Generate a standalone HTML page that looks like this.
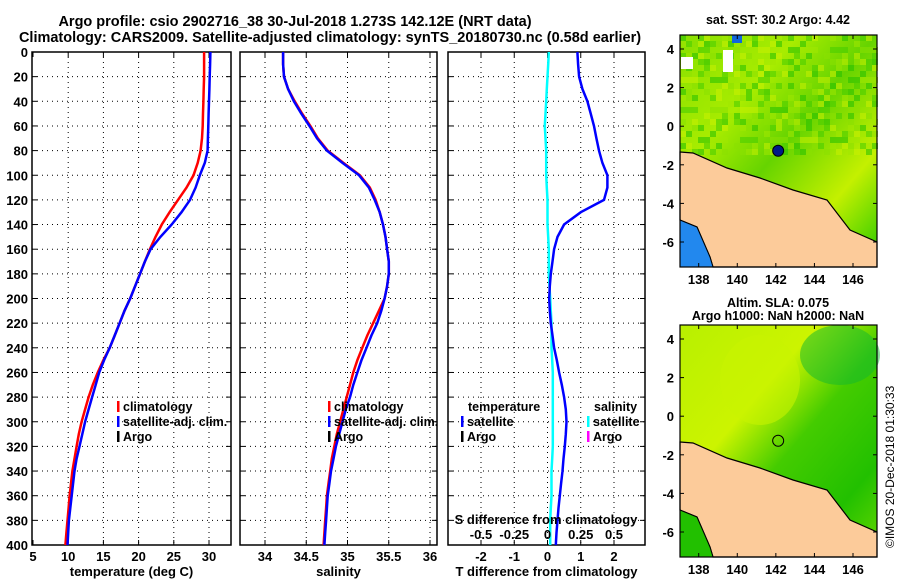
<!DOCTYPE html>
<html><head><meta charset="utf-8">
<style>
body{margin:0;background:#fff;}
svg{display:block;font-family:"Liberation Sans",Arial,sans-serif;font-weight:bold;}
</style></head>
<body>
<svg id="chart" width="900" height="580" viewBox="0 0 900 580" xmlns="http://www.w3.org/2000/svg">
<text x="295" y="26" font-size="14.5" text-anchor="middle">Argo profile: csio 2902716_38 30-Jul-2018 1.273S 142.12E (NRT data)</text>
<text x="330" y="42" font-size="14.5" text-anchor="middle">Climatology: CARS2009. Satellite-adjusted climatology: synTS_20180730.nc (0.58d earlier)</text>
<g id="g"></g>
<text x="0" y="0" font-size="12" font-weight="normal" transform="translate(894,548) rotate(-90)">©IMOS 20-Dec-2018 01:30:33</text>
</svg>
<script>
// ---- data ----
const depths = [0,10,20,30,40,50,60,70,80,90,100,110,120,130,140,150,160,170,180,190,200,210,220,230,240,250,260,270,280,290,300,310,320,330,340,350,360,370,380,390,400];
const tempClim = [29.3,29.3,29.3,29.25,29.2,29.15,29.1,29.0,28.8,28.4,27.8,26.8,25.6,24.4,23.3,22.4,21.6,20.9,20.2,19.5,18.8,18.0,17.3,16.6,15.9,15.0,14.2,13.5,12.9,12.4,11.9,11.5,11.2,10.9,10.6,10.4,10.2,10.05,9.9,9.75,9.6];
const tempSat  = [30.2,30.15,30.1,30.05,30.0,29.95,29.9,29.85,29.8,29.4,28.7,28.1,27.3,26.1,24.7,23.1,21.7,20.9,20.2,19.5,18.8,18.0,17.3,16.6,15.9,15.1,14.4,13.9,13.4,12.9,12.4,12.0,11.6,11.2,10.9,10.7,10.5,10.3,10.1,10.0,9.9];
const salClim  = [34.22,34.22,34.23,34.28,34.36,34.45,34.55,34.64,34.76,34.95,35.15,35.27,35.34,35.39,35.43,35.46,35.48,35.5,35.5,35.48,35.45,35.38,35.31,35.24,35.18,35.12,35.07,35.03,34.99,34.95,34.91,34.87,34.84,34.81,34.79,34.77,34.75,34.74,34.73,34.72,34.71];
const salSat   = [34.22,34.22,34.23,34.28,34.35,34.44,34.54,34.63,34.75,34.94,35.14,35.26,35.33,35.39,35.43,35.46,35.48,35.5,35.5,35.48,35.45,35.41,35.36,35.29,35.23,35.17,35.12,35.07,35.03,34.98,34.94,34.9,34.86,34.83,34.8,34.78,34.76,34.75,34.74,34.73,34.72];
const tDiff    = [0.9,0.92,0.95,1.05,1.2,1.3,1.4,1.47,1.55,1.65,1.8,1.8,1.7,1.0,0.5,0.3,0.2,0.15,0.1,0.07,0.05,0.07,0.1,0.15,0.2,0.28,0.35,0.43,0.5,0.55,0.57,0.55,0.52,0.48,0.45,0.41,0.37,0.33,0.3,0.27,0.25];
const sDiff    = [0.01,0.005,0,-0.005,-0.01,-0.015,-0.02,-0.015,-0.01,-0.01,-0.01,-0.005,0,0,0,0.005,0.01,0.01,0.01,0.015,0.02,0.025,0.03,0.03,0.03,0.035,0.04,0.04,0.04,0.04,0.04,0.04,0.04,0.035,0.03,0.03,0.03,0.025,0.02,0.02,0.02];
const tTicks = [5,10,15,20,25,30];
const sTicks = [34,34.5,35,35.5,36];
const tdTicks = [-2,-1,0,1,2];
const sdTicks = [-0.5,-0.25,0,0.25,0.5];
const depthTicks = [0,20,40,60,80,100,120,140,160,180,200,220,240,260,280,300,320,340,360,380,400];
const lonTicks = [138,140,142,144,146];
const latTicks = [4,2,0,-2,-4,-6];

const NS="http://www.w3.org/2000/svg";
const G=document.getElementById('g');
function el(tag,attrs,parent){const e=document.createElementNS(NS,tag);for(const k in attrs)e.setAttribute(k,attrs[k]);(parent||G).appendChild(e);return e;}
function txt(x,y,s,size,anchor,parent){const t=el('text',{x:x,y:y,'font-size':size,'text-anchor':anchor||'start'},parent);t.textContent=s;return t;}

const top0=52,bot0=545;
const yD=d=>top0+(d/400)*(bot0-top0);
function lin(d0,d1,r0,r1){return v=>r0+(v-d0)/(d1-d0)*(r1-r0);}

const panels=[
 {name:'temperature-panel',x0:32,x1:231,x:lin(5,30,33,209),ticks:tTicks,label:'temperature (deg C)'},
 {name:'salinity-panel',x0:240,x1:437,x:lin(34,36,265,430),ticks:sTicks,label:'salinity'},
 {name:'difference-panel',x0:448,x1:645,x:lin(-2,2,481,614),ticks:tdTicks,label:'T difference from climatology'}
];
panels.forEach((p,i)=>{
 const g=el('g',{});
 
 
 depthTicks.forEach(d=>{const y=yD(d);if(d>0&&d<400){el('line',{x1:p.x0,x2:p.x1,y1:y,y2:y,stroke:'#000','stroke-dasharray':'1,4'},g);}
   el('line',{x1:p.x0,x2:p.x0+5,y1:y,y2:y,stroke:'#000'},g);el('line',{x1:p.x1-5,x2:p.x1,y1:y,y2:y,stroke:'#000'},g);
   if(i==0){const t=txt(p.x0-4,y+5,String(d),13,'end',g);}
 });
 p.ticks.forEach(v=>{const x=p.x(v);if(x>p.x0+1&&x<p.x1-1)el('line',{x1:x,x2:x,y1:top0,y2:bot0,stroke:'#000','stroke-dasharray':'1,4'},g);
   el('line',{x1:x,x2:x,y1:bot0-5,y2:bot0,stroke:'#000'},g);el('line',{x1:x,x2:x,y1:top0,y2:top0+5,stroke:'#000'},g);
   const t=txt(x,561,String(v),13,'middle',g);});
 el('rect',{x:p.x0,y:top0,width:p.x1-p.x0,height:bot0-top0,fill:'none',stroke:'#000','stroke-width':1.5},g);
 const xl=txt((p.x0+p.x1)/2,576,p.label,13,'middle',g);
 
 
});
function line(vals,xf,color,name,w){
 const pts=vals.map((v,i)=>xf(v).toFixed(1)+','+yD(depths[i]).toFixed(1)).join(' ');
 const l=el('polyline',{points:pts,fill:'none',stroke:color,'stroke-width':w||2.5});
 
 
}
line(tempClim,panels[0].x,'#ff0000','temp-climatology-line');
line(tempSat,panels[0].x,'#0000ff','temp-satellite-line');
line(salClim,panels[1].x,'#ff0000','sal-climatology-line');
line(salSat,panels[1].x,'#0000ff','sal-satellite-line');
line(sDiff,v=>panels[2].x(v*4),'#00ffff','s-diff-satellite-line');
line(tDiff,panels[2].x,'#0000ff','t-diff-satellite-line');
txt(546,524,'S difference from climatology',13,'middle');
sdTicks.forEach(v=>{const t=txt(panels[2].x(v*4),539,String(v),13,'middle');});
function leg(x,y,color,label){const g=el('g',{});
 el('rect',{x:x,y:y-10,width:2.5,height:11,fill:color},g);txt(x+6,y,label,12.5,'start',g);}
[117,328].forEach(x=>{leg(x,411,'#ff0000','climatology');leg(x,426,'#0000ff','satellite-adj. clim.');leg(x,441,'#000','Argo');});
txt(468,411,'temperature',12.5);leg(461,426,'#0000ff','satellite');leg(461,441,'#000','Argo');
txt(594,411,'salinity',12.5);leg(587,426,'#00ffff','satellite');leg(587,441,'#ff00ff','Argo');

// maps
function map(y0,y1,latY4,sst,name,title1,title2){
 const g=el('g',{});
 const X=lin(138,146,698.7,853),Y=lin(4,-6,latY4,latY4+193);
 const dy=latY4-49;
 const defs=el('defs',{},g);
 const grad=el('linearGradient',{id:'gr'+name,x1:0,y1:0,x2:1,y2:1},defs);
 if(sst){[[0,'#88e000'],[0.3,'#a8ec00'],[0.5,'#66d400'],[0.75,'#c4f000'],[1,'#22c800']].forEach(s=>el('stop',{offset:s[0],'stop-color':s[1]},grad));}
 else{[[0,'#b8f000'],[0.35,'#ccf400'],[0.55,'#44cc00'],[0.8,'#22c000'],[1,'#66d800']].forEach(s=>el('stop',{offset:s[0],'stop-color':s[1]},grad));}
 el('rect',{x:680,y:y0,width:197,height:y1-y0,fill:'url(#gr'+name+')'},g);
 if(sst){
  const c=['#22c000','#c8f000','#8ae000','#44cc00','#a0e800'];
  for(let i=0;i<33;i++)for(let j=0;j<20;j++){const k=(i*7+j*13+(i*j)%5)%9;if(k<5)el('rect',{x:680+i*6,y:y0+j*6,width:6,height:6,fill:c[k],opacity:0.55},g);}
  el('rect',{x:723,y:50,width:10,height:22,fill:'#fff'},g);el('rect',{x:681,y:57,width:12,height:12,fill:'#fff'},g);el('rect',{x:732,y:35,width:10,height:8,fill:'#1166dd'},g);}
 else{el('ellipse',{cx:760,cy:y0+55,rx:40,ry:45,fill:'#c8f400',opacity:0.6},g);el('ellipse',{cx:840,cy:y0+30,rx:40,ry:30,fill:'#10b830',opacity:0.5},g);}
 const coast=[[680,152],[693,153],[727,168],[760,178],[793,190],[827,200],[850,230],[877,242],[877,y1-dy],[713,y1-dy],[710,257],[697,227],[680,220]];
 el('polygon',{points:coast.map(p=>p[0]+','+(Math.min(p[1]+dy,y1))).join(' '),fill:'#fccb9a',stroke:'#000','stroke-width':1.2},g);
 el('polygon',{points:[[680,220],[697,227],[710,257],[713,267],[680,267]].map(p=>p[0]+','+Math.min(p[1]+dy,y1)).join(' '),fill:sst?'#2288ee':'#22c000',stroke:'#000','stroke-width':1},g);
 if(sst){const c=el('circle',{cx:X(142.12),cy:Y(-1.273),r:5.5,fill:'#001a88',stroke:'#000'},g);}
 else{const c=el('circle',{cx:X(142.12),cy:Y(-1.273),r:5.5,fill:'none',stroke:'#000'},g);}
 el('rect',{x:680,y:y0,width:197,height:y1-y0,fill:'none',stroke:'#000','stroke-width':1.2},g);
 lonTicks.forEach(v=>{const x=X(v);el('line',{x1:x,x2:x,y1:y1,y2:y1-4,stroke:'#000'},g);el('line',{x1:x,x2:x,y1:y0,y2:y0+4,stroke:'#000'},g);txt(x,y1+17,String(v),13,'middle',g);});
 latTicks.forEach(v=>{const y=Y(v);el('line',{x1:680,x2:684,y1:y,y2:y,stroke:'#000'},g);el('line',{x1:873,x2:877,y1:y,y2:y,stroke:'#000'},g);txt(674,y+5,String(v),13,'end',g);});
 txt(778,title2?y0-18:y0-11,title1,12.5,'middle',g);
 if(title2)txt(778,y0-5,title2,12.5,'middle',g);
}
map(35,267,49,true,'sst-map','sat. SST: 30.2 Argo: 4.42');
map(325,557,339,false,'sla-map','Altim. SLA: 0.075','Argo h1000: NaN h2000: NaN');
</script>
</body></html>
